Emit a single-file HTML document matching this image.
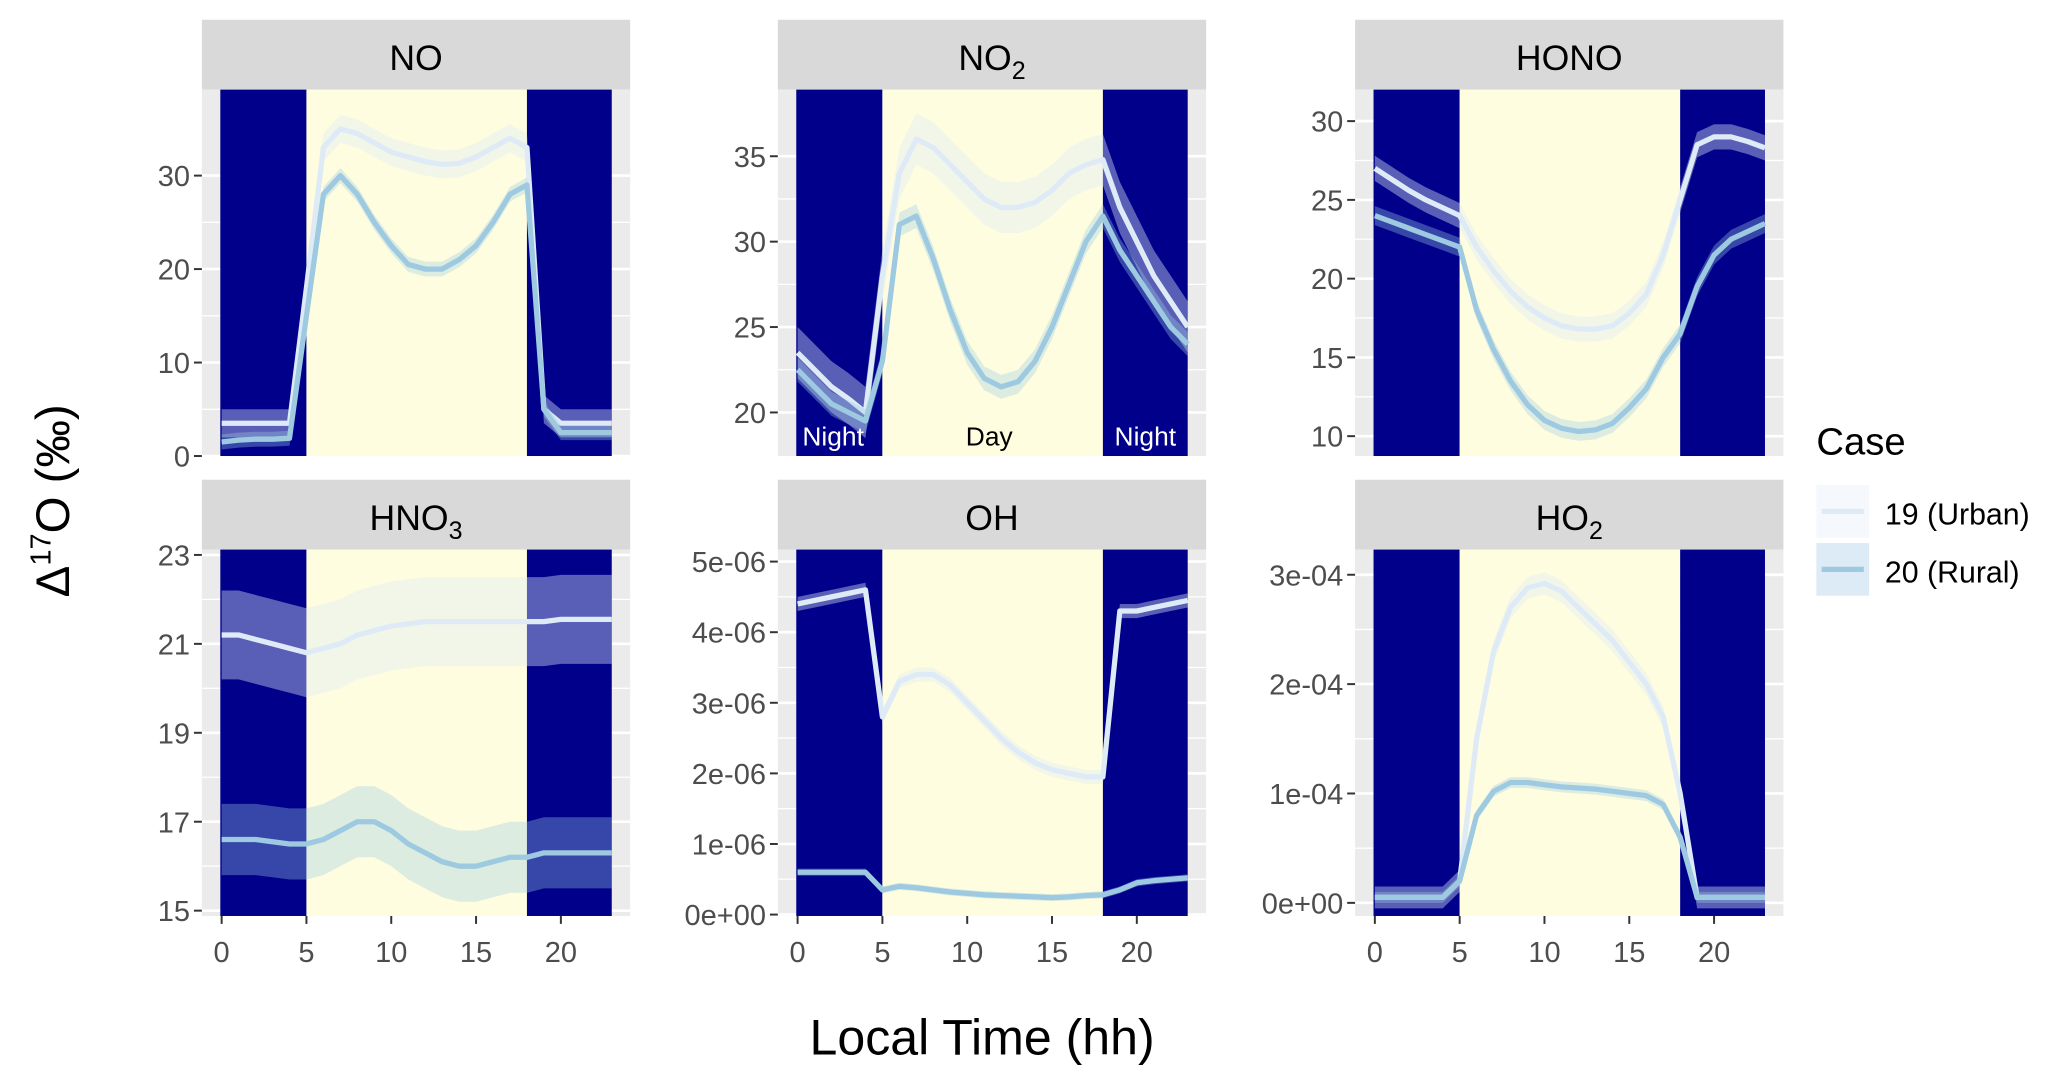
<!DOCTYPE html>
<html><head><meta charset="utf-8"><style>
html,body{margin:0;padding:0;background:#fff;}
svg{display:block;font-family:"Liberation Sans",Arial,sans-serif;}
</style></head><body>
<svg id="chart" width="2067" height="1086" viewBox="0 0 1568 824">
<text transform="translate(52,380) rotate(-90)" text-anchor="middle" font-size="36" fill="#000">Δ<tspan font-size="22" dy="-14">17</tspan><tspan dy="14">O (‰)</tspan></text>
<text x="745" y="800" text-anchor="middle" font-size="38" fill="#000">Local Time (hh)</text>
<g>
<text x="1378" y="345" font-size="29" fill="#000">Case</text>
<rect x="1378" y="368" width="40" height="40" fill="#f5f8fc"/>
<line x1="1382" y1="388" x2="1414" y2="388" stroke="#deebf7" stroke-width="4"/>
<text x="1430" y="398" font-size="23" fill="#000">19 (Urban)</text>
<rect x="1378" y="412" width="40" height="40" fill="#dcebf6"/>
<line x1="1382" y1="432" x2="1414" y2="432" stroke="#9ecae1" stroke-width="4"/>
<text x="1430" y="442" font-size="23" fill="#000">20 (Rural)</text>
</g>
</svg>
<script>
const hours=[0,1,2,3,4,5,6,7,8,9,10,11,12,13,14,15,16,17,18,19,20,21,22,23];
const noUrban=[3.5,3.5,3.5,3.5,3.5,18,33,35,34.5,33.5,32.5,32,31.5,31.2,31.3,32,33,34,33,5,3.5,3.5,3.5,3.5];
const noRural=[1.5,1.7,1.8,1.8,1.9,15,28,30,28,25,22.5,20.5,20,20,21,22.5,25,28,29,5,2.5,2.5,2.5,2.5];
const no2Urban=[23.5,22.5,21.5,20.8,20,28,34,36,35.5,34.5,33.5,32.5,32,32,32.3,33,34,34.5,34.8,32,30,28,26.5,25];
const no2Rural=[22.5,21.5,20.5,20,19.5,23,31,31.5,29,26,23.5,22,21.5,21.8,23,25,27.5,30,31.5,29.5,28,26.5,25,24];
const honoUrban=[27,26.3,25.6,25,24.5,24,22,20.5,19.2,18.2,17.5,17,16.8,16.8,17,17.8,19,21.5,25,28.5,29,29,28.7,28.3];
const honoRural=[24,23.6,23.2,22.8,22.4,22,18,15.5,13.5,12,11,10.5,10.3,10.4,10.8,11.8,13,15,16.5,19.5,21.5,22.5,23,23.5];
const hno3Urban=[21.2,21.2,21.1,21,20.9,20.8,20.9,21,21.2,21.3,21.4,21.45,21.5,21.5,21.5,21.5,21.5,21.5,21.5,21.5,21.55,21.55,21.55,21.55];
const hno3Rural=[16.6,16.6,16.6,16.55,16.5,16.5,16.6,16.8,17,17,16.8,16.5,16.3,16.1,16,16,16.1,16.2,16.2,16.3,16.3,16.3,16.3,16.3];
const ohUrban=[4.4,4.45,4.5,4.55,4.6,2.8,3.3,3.4,3.4,3.25,3.0,2.75,2.5,2.3,2.15,2.05,2.0,1.95,1.95,4.3,4.3,4.35,4.4,4.45];
const ohRural=[0.6,0.6,0.6,0.6,0.6,0.35,0.4,0.38,0.35,0.32,0.3,0.28,0.27,0.26,0.25,0.24,0.25,0.27,0.28,0.35,0.45,0.48,0.5,0.52];
const ho2Urban=[0.05,0.05,0.05,0.05,0.05,0.2,1.5,2.3,2.7,2.88,2.92,2.85,2.7,2.55,2.4,2.2,2.0,1.7,1.0,0.05,0.05,0.05,0.05,0.05];
const ho2Rural=[0.05,0.05,0.05,0.05,0.05,0.2,0.8,1.02,1.1,1.1,1.08,1.06,1.05,1.04,1.02,1.0,0.98,0.9,0.6,0.05,0.05,0.05,0.05,0.05];
const xTicks=[0,5,10,15,20];
const noTicks=[0,10,20,30], no2Ticks=[20,25,30,35], honoTicks=[10,15,20,25,30], hno3Ticks=[15,17,19,21,23];
const ohTicks=[0,1,2,3,4,5], ho2Ticks=[0,1,2,3];
const ohLabels=["0e+00","1e-06","2e-06","3e-06","4e-06","5e-06"], ho2Labels=["0e+00","1e-04","2e-04","3e-04"];

const NS="http://www.w3.org/2000/svg", svg=document.getElementById('chart');
function mk(tag,attrs,parent){const e=document.createElementNS(NS,tag);for(const k in attrs)e.setAttribute(k,attrs[k]);(parent||svg).appendChild(e);return e;}

const panels=[
 {key:'no',title:'NO',sub:'',x:153,y:15,ymin:-0.0,ymax:39.2,yb:0,ticks:noTicks,labels:null,u:noUrban,r:noRural,bu:1.5,br:0.8,night:false},
 {key:'no2',title:'NO',sub:'2',x:590,y:15,ymin:17.45,ymax:38.9,ticks:no2Ticks,labels:null,u:no2Urban,r:no2Rural,bu:1.5,br:0.7,night:true},
 {key:'hono',title:'HONO',sub:'',x:1028,y:15,ymin:8.74,ymax:32,ticks:honoTicks,labels:null,u:honoUrban,r:honoRural,bu:0.8,br:0.6},
 {key:'hno3',title:'HNO',sub:'3',x:153,y:364,ymin:14.88,ymax:23.12,ticks:hno3Ticks,labels:null,u:hno3Urban,r:hno3Rural,bu:1.0,br:0.8},
 {key:'oh',title:'OH',sub:'',x:590,y:364,ymin:-0.02,ymax:5.17,ticks:ohTicks,labels:ohLabels,u:ohUrban,r:ohRural,bu:0.1,br:0.05},
 {key:'ho2',title:'HO',sub:'2',x:1028,y:364,ymin:-0.12,ymax:3.23,ticks:ho2Ticks,labels:ho2Labels,u:ho2Urban,r:ho2Rural,bu:0.1,br:0.05}
];
const W=325, SH=53, PH=278;
panels.forEach((p,i)=>{
 const g=mk('g',{});
 
 
 const top=p.y+SH, bot=top+PH;
 const sx=h=>p.x+15+h*(W-29)/23;
 const sy=v=>bot-(v-p.ymin)/(p.ymax-p.ymin)*PH;
 const strip=mk('rect',{x:p.x,y:p.y,width:W,height:SH,fill:'#d9d9d9'},g);
 
 
 const st=mk('text',{x:p.x+W/2,y:p.y+38,'text-anchor':'middle','font-size':27,fill:'#000'},g);
 
 
 st.textContent=p.title;
 if(p.sub){const ts=mk('tspan',{'font-size':19,dy:7},st);ts.textContent=p.sub;}
 mk('rect',{x:p.x,y:top,width:W,height:PH,fill:'#ebebeb'},g);
 // grid
 for(let k=0;k<p.ticks.length;k++){
  const yy=sy(p.ticks[k]);
  mk('line',{x1:p.x,x2:p.x+W,y1:yy,y2:yy,stroke:'#fff','stroke-width':2},g);
  if(k<p.ticks.length-1){const ym=sy((p.ticks[k]+p.ticks[k+1])/2);mk('line',{x1:p.x,x2:p.x+W,y1:ym,y2:ym,stroke:'#fff','stroke-width':1},g);}
 }
 // night/day
 const n1=mk('rect',{x:sx(0)-1,y:top,width:sx(5)-sx(0)+1,height:PH,fill:'#00008b'},g);
 
 const d=mk('rect',{x:sx(5),y:top,width:sx(18)-sx(5),height:PH,fill:'#fffde0'},g);
 
 const n2=mk('rect',{x:sx(18),y:top,width:sx(23)-sx(18),height:PH,fill:'#00008b'},g);
 
 // series
 [['urban',p.u,p.bu,'#deebf7','rgba(222,235,247,0.4)'],['rural',p.r,p.br,'#9ecae1','rgba(158,202,225,0.35)']].forEach(s=>{
  const vals=s[1],b=s[2];
  let up=hours.map((h,j)=>sx(h)+','+sy(vals[j]+b)), dn=hours.map((h,j)=>sx(h)+','+sy(vals[j]-b)).reverse();
  const rb=mk('polygon',{points:up.concat(dn).join(' '),fill:s[4]},g);
  
  const ln=mk('polyline',{points:hours.map((h,j)=>sx(h)+','+sy(vals[j])).join(' '),fill:'none',stroke:s[3],'stroke-width':4,'stroke-linejoin':'round'},g);
  
 });
 // y ticks
 p.ticks.forEach((t,k)=>{
  const yy=sy(t);
  mk('line',{x1:p.x-6,x2:p.x,y1:yy,y2:yy,stroke:'#333','stroke-width':1.5},g);
  const tl=mk('text',{x:p.x-9,y:yy+8,'text-anchor':'end','font-size':22,fill:'#4d4d4d'},g);
  
  tl.textContent=p.labels?p.labels[k]:String(t);
 });
 if(i>=3){xTicks.forEach(t=>{
  mk('line',{x1:sx(t),x2:sx(t),y1:bot,y2:bot+6,stroke:'#333','stroke-width':1.5},g);
  const tl=mk('text',{x:sx(t),y:bot+35,'text-anchor':'middle','font-size':22,fill:'#4d4d4d'},g);
  
  tl.textContent=String(t);
 });}
 if(p.night){
  [['Night',sx(0)+27,'#fff'],['Day',sx(11.3),'#000'],['Night',sx(20.5),'#fff']].forEach(a=>{
   const tl=mk('text',{x:a[1],y:bot-8,'text-anchor':'middle','font-size':20,fill:a[2]},g);
   
   tl.textContent=a[0];
  });
 }
});
</script>
</body></html>
